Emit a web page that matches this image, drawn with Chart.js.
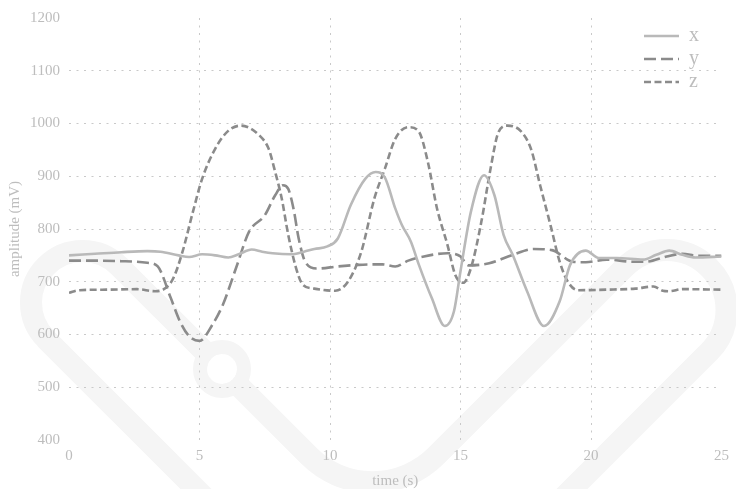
<!DOCTYPE html>
<html><head><meta charset="utf-8">
<script src="https://cdn.jsdelivr.net/npm/chart.js@4/dist/chart.umd.min.js"></script>
<style>html,body{margin:0;padding:0;background:#fff;overflow:hidden;}</style>
</head><body>
<canvas id="c" width="736" height="489" style="display:block;width:736px;height:489px"></canvas>
<script>
const seriesNames = ['x', 'y', 'z'];
const xTicks = [0, 5, 10, 15, 20, 25];
const yTicks = [400, 500, 600, 700, 800, 900, 1000, 1100, 1200];

const timeX = [0,1,2,3,3.5,4.2,4.6,5.1,5.6,6.1,6.5,7.0,7.4,7.8,8.5,9.0,9.4,9.9,10.3,10.8,11.35,11.75,12.1,12.5,12.75,13.1,13.4,13.9,14.4,14.75,15.0,15.4,15.9,16.3,16.65,17.0,17.55,18.2,18.8,19.2,19.8,20.3,21,22,22.5,23,23.5,24,25];
const ampX  = [750,753,756,758,757,750,747,752,750,746,752,761,757,754,752,757,762,767,782,846,895,908,898,839,808,776,733,669,616,644,720,833,902,864,789,751,682,616,663,732,759,745,745,742,751,759,751,746,748];

const timeY = [0,1,2,3,3.4,3.9,4.25,4.6,5.0,5.5,5.9,6.4,6.9,7.5,7.9,8.2,8.4,8.6,8.8,9.05,9.5,10.3,11.1,12.0,12.5,13.0,13.6,14.5,15.0,15.3,16.1,17.0,17.8,18.5,19.3,19.8,20.6,21.6,22.1,22.9,23.5,24.1,25];
const ampY  = [740,740,739,736,729,669,625,597,588,619,657,726,795,826,864,883,876,839,782,738,725,729,732,733,729,740,748,754,748,731,735,751,762,760,738,737,742,738,738,748,753,749,749];

const timeZ = [0,0.4,1.5,2.6,3.3,3.7,4.0,4.35,4.75,5.1,5.6,6.1,6.6,7.3,7.65,7.9,8.15,8.4,8.7,8.95,9.4,10.2,10.7,11.2,11.7,12.1,12.5,13.0,13.4,13.75,14.1,14.5,14.8,15.1,15.4,15.8,16.15,16.45,16.8,17.3,17.7,18.05,18.45,18.8,19.1,19.5,20.6,21.7,22.4,22.75,23.0,23.5,25];
const ampZ  = [679,684,685,686,682,688,707,757,833,895,952,986,996,977,952,908,858,789,726,695,687,683,701,757,858,914,971,993,985,927,839,770,713,698,726,814,914,983,996,986,952,883,807,738,701,684,685,687,691,683,682,686,685];

const pts = (t, v) => t.map((ti, i) => ({ x: ti, y: v[i] }));

const textColor = '#bdbdbd';
const gridColor = '#c9c9c9';
const serif = '"Liberation Serif", "DejaVu Serif", serif';

const watermark = {
  id: 'watermark',
  beforeDraw(chart) {
    const ctx = chart.ctx;
    ctx.save();
    ctx.strokeStyle = '#f5f5f5';
    ctx.lineWidth = 22;
    ctx.lineJoin = 'round';
    ctx.beginPath();
    ctx.moveTo(250, 543);
    ctx.lineTo(46.1, 339.1);
    ctx.arc(82.6, 302.6, 51.6, 0.75 * Math.PI, 1.75 * Math.PI);
    ctx.lineTo(308.9, 455.8);
    ctx.arc(372.5, 392.2, 90, 0.75 * Math.PI, 0.25 * Math.PI, true);
    ctx.lineTo(624.5, 267.5);
    ctx.arc(666.75, 309.75, 59.75, 1.25 * Math.PI, 2.25 * Math.PI);
    ctx.lineTo(509, 552);
    ctx.stroke();
    ctx.fillStyle = '#ffffff';
    ctx.beginPath(); ctx.arc(222, 369, 15, 0, 2 * Math.PI); ctx.fill();
    ctx.lineWidth = 14;
    ctx.beginPath(); ctx.arc(222, 369, 22, 0, 2 * Math.PI); ctx.stroke();
    ctx.restore();
    const lg = chart.legend;
    if (lg) {
      lg.left = 641; lg.right = 641 + lg.width;
      lg.top = 23; lg.bottom = 200; lg.height = 177;
    }
  }
};

const interiorX = (c) => (c.tick && (c.tick.value === 0 || c.tick.value === 25)) ? 'rgba(0,0,0,0)' : gridColor;
const interiorY = (c) => (c.tick && (c.tick.value === 400 || c.tick.value === 1200)) ? 'rgba(0,0,0,0)' : gridColor;

new Chart(document.getElementById('c'), {
  type: 'line',
  data: {
    datasets: [
      { label: seriesNames[0], data: pts(timeX, ampX), borderColor: '#b9b9b9', backgroundColor: '#b9b9b9', borderWidth: 2.6, borderDash: [] },
      { label: seriesNames[1], data: pts(timeY, ampY), borderColor: '#8b8b8b', backgroundColor: '#8b8b8b', borderWidth: 2.6, borderDash: [12, 5] },
      { label: seriesNames[2], data: pts(timeZ, ampZ), borderColor: '#8b8b8b', backgroundColor: '#8b8b8b', borderWidth: 2.6, borderDash: [7, 3.5] }
    ]
  },
  options: {
    responsive: false,
    animation: false,
    devicePixelRatio: 1,
    layout: { padding: { left: 0, right: 11, top: 15, bottom: 0 } },
    elements: {
      point: { radius: 0, hoverRadius: 0 },
      line: { cubicInterpolationMode: 'monotone', fill: false }
    },
    plugins: {
      tooltip: { enabled: false },
      legend: {
        position: 'chartArea',
        align: 'start',
        labels: {
          usePointStyle: true,
          pointStyle: 'line',
          pointStyleWidth: 35,
          padding: 3,
          color: textColor,
          font: { family: serif, size: 20 },
          generateLabels(chart) {
            return chart.data.datasets.map((ds, i) => ({
              text: ds.label,
              fillStyle: ds.borderColor,
              strokeStyle: ds.borderColor,
              fontColor: textColor,
              lineWidth: ds.borderWidth,
              lineDash: ds.borderDash,
              lineCap: 'butt',
              pointStyle: 'line',
              hidden: false,
              textAlign: 'left',
              datasetIndex: i
            }));
          }
        }
      }
    },
    scales: {
      x: {
        type: 'linear',
        min: xTicks[0],
        max: xTicks[xTicks.length - 1],
        afterBuildTicks: (s) => { s.ticks = xTicks.map(v => ({ value: v })); },
        afterFit: (s) => { s.height = 49; },
        ticks: { color: textColor, font: { family: serif, size: 15 }, padding: 7, maxRotation: 0, callback: (v) => String(v) },
        grid: { color: interiorX, lineWidth: 1, drawTicks: false },
        border: { display: false, dash: [2, 5.5] },
        title: { display: true, text: 'time (s)', color: textColor, font: { family: serif, size: 15, lineHeight: 1 }, padding: { top: 0, bottom: 0 } }
      },
      y: {
        min: yTicks[0],
        max: yTicks[yTicks.length - 1],
        afterBuildTicks: (s) => { s.ticks = yTicks.map(v => ({ value: v })); },
        afterFit: (s) => { s.width = 69; },
        ticks: { color: textColor, font: { family: serif, size: 15 }, padding: 9, callback: (v) => String(v) },
        grid: { color: interiorY, lineWidth: 1, drawTicks: false },
        border: { display: false, dash: [2, 5.5] },
        title: { display: true, text: 'amplitude (mV)', color: textColor, font: { family: serif, size: 15, lineHeight: 1.2 }, padding: { top: 6, bottom: 0 } }
      }
    }
  },
  plugins: [watermark]
});
</script>
</body></html>
